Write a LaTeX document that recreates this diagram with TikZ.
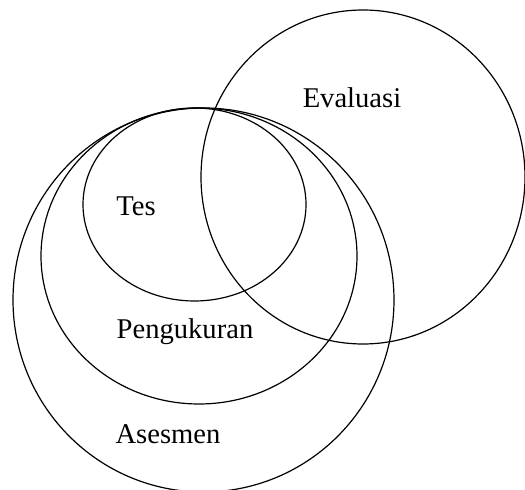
\documentclass[tikz,border=0pt]{standalone}
\usepackage{fontspec}
\setmainfont{Liberation Serif}
\begin{document}
\begin{tikzpicture}[x=1pt,y=1pt,line width=1.2pt]
\useasboundingbox (0,0) rectangle (525,490);
\draw (363,313) ellipse (162 and 167);
\draw (194.5,285.5) ellipse (111.5 and 96.5);
\draw (199,234) ellipse (158 and 148);
\draw (203.5,190) ellipse (190.5 and 192);
\node (evaluasi) at (352,392) {\fontsize{28.6}{30}\selectfont Evaluasi};
\node (tes) at (136,284) {\fontsize{28.6}{30}\selectfont Tes};
\node (pengukuran) at (185,158) {\fontsize{28.6}{30}\selectfont Pengukuran};
\node (asesmen) at (168,56) {\fontsize{28.6}{30}\selectfont Asesmen};
\end{tikzpicture}
\end{document}
